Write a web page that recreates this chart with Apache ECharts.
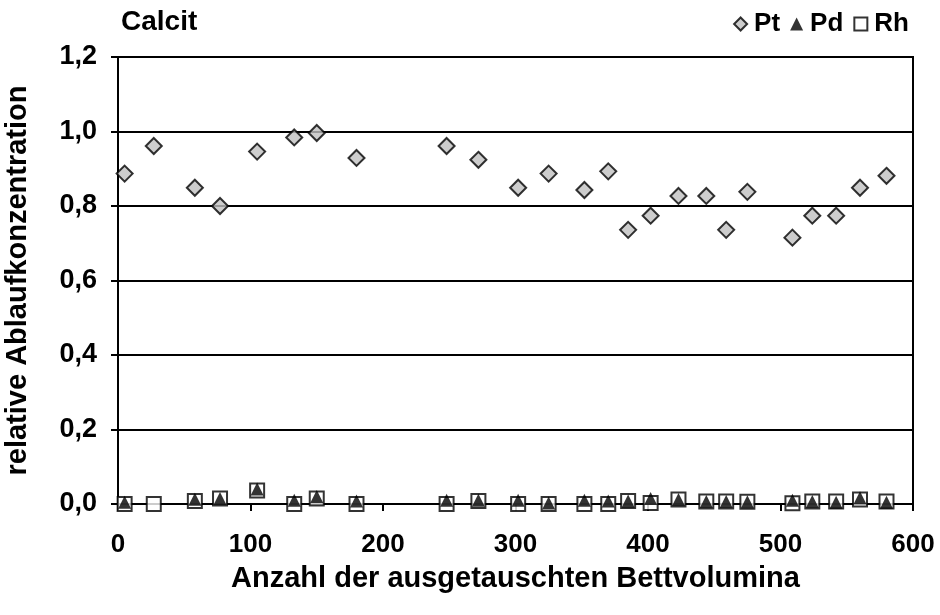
<!DOCTYPE html>
<html>
<head>
<meta charset="utf-8">
<script src="https://cdn.jsdelivr.net/npm/echarts@6/dist/echarts.min.js"></script>
<style>
  html, body { margin: 0; padding: 0; background: #fff; }
  #chart { width: 940px; height: 615px; }
</style>
</head>
<body>
<div id="chart"></div>
<script>
// Exchanged bed volumes at each sampling point
const bedVolumes = [5, 27, 58, 77, 105, 133, 150, 180, 248, 272, 302, 325, 352, 370, 385, 402, 423, 444, 459, 475, 509, 524, 542, 560, 580];

// Relative effluent concentration per metal
const ptValues = [0.887, 0.961, 0.849, 0.800, 0.946, 0.984, 0.996, 0.929, 0.961, 0.924, 0.849, 0.887, 0.843, 0.893, 0.736, 0.774, 0.827, 0.827, 0.736, 0.838, 0.715, 0.774, 0.774, 0.849, 0.881];
const pdValues = [0.005, null, 0.013, 0.015, 0.040, 0.010, 0.020, 0.008, 0.010, 0.010, 0.010, 0.003, 0.010, 0.008, 0.008, 0.015, 0.012, 0.007, 0.007, 0.006, 0.010, 0.007, 0.005, 0.017, 0.005];
const rhValues = [0.000, 0.000, 0.008, 0.015, 0.036, 0.000, 0.015, 0.000, 0.000, 0.008, 0.000, 0.000, 0.000, 0.000, 0.008, 0.003, 0.012, 0.007, 0.007, 0.006, 0.002, 0.007, 0.007, 0.012, 0.007];

const yTicks = [0, 0.2, 0.4, 0.6, 0.8, 1.0, 1.2];
const xTicks = [0, 100, 200, 300, 400, 500, 600];

function pairs(xs, ys) {
  const out = [];
  xs.forEach((x, i) => { if (ys[i] !== null) out.push([x, ys[i]]); });
  return out;
}

const font = 'Liberation Sans, Arial, sans-serif';
const chart = echarts.init(document.getElementById('chart'), null, { renderer: 'canvas' });

chart.setOption({
  animation: false,
  backgroundColor: '#ffffff',
  title: {
    text: 'Calcit',
    left: 116,
    top: 3,
    textStyle: { fontFamily: font, fontWeight: 'bold', fontSize: 28, color: '#000' }
  },
  legend: {
    right: 26,
    top: 6,
    itemGap: 10,
    itemWidth: 13,
    itemHeight: 13,
    data: [
      { name: 'Pt', icon: 'diamond' },
      { name: 'Pd', icon: 'triangle' },
      { name: 'Rh', icon: 'rect' }
    ],
    textStyle: { fontFamily: font, fontWeight: 'bold', fontSize: 26, color: '#000', padding: [0, 0, 0, 2] }
  },
  grid: {
    left: 118,
    right: 27,
    top: 57,
    bottom: 111,
    outerBoundsMode: 'none',
    containLabel: false,
    show: true,
    borderColor: '#000',
    borderWidth: 2,
    backgroundColor: 'transparent'
  },
  xAxis: {
    type: 'value',
    min: xTicks[0],
    max: xTicks[xTicks.length - 1],
    interval: 100,
    name: 'Anzahl der ausgetauschten Bettvolumina',
    nameLocation: 'middle',
    nameGap: 60,
    nameTextStyle: { fontFamily: font, fontWeight: 'bold', fontSize: 29, color: '#000' },
    axisLine: { show: true, lineStyle: { color: '#000', width: 2 } },
    axisTick: { show: true, inside: false, length: 7, lineStyle: { color: '#000', width: 2 } },
    axisLabel: { fontFamily: font, fontWeight: 'bold', fontSize: 26, color: '#000', margin: 28 },
    splitLine: { show: false }
  },
  yAxis: {
    type: 'value',
    min: yTicks[0],
    max: yTicks[yTicks.length - 1],
    interval: 0.2,
    name: 'relative Ablaufkonzentration',
    nameLocation: 'middle',
    nameGap: 86,
    nameTextStyle: { fontFamily: font, fontWeight: 'bold', fontSize: 29, color: '#000' },
    axisLine: { show: true, lineStyle: { color: '#000', width: 2 } },
    axisTick: { show: true, inside: false, length: 7, lineStyle: { color: '#000', width: 2 } },
    axisLabel: {
      fontFamily: font, fontWeight: 'bold', fontSize: 27, color: '#000', margin: 21,
      formatter: v => v.toFixed(1).replace('.', ',')
    },
    splitLine: { show: true, lineStyle: { color: '#000', width: 2 } }
  },
  series: [
    {
      name: 'Rh',
      type: 'scatter',
      symbol: 'rect',
      symbolSize: 14,
      z: 2,
      itemStyle: { color: '#ffffff', borderColor: '#000', borderWidth: 2 },
      data: pairs(bedVolumes, rhValues)
    },
    {
      name: 'Pd',
      type: 'scatter',
      symbol: 'triangle',
      symbolSize: 13,
      z: 3,
      itemStyle: { color: '#000000', borderColor: '#000', borderWidth: 0 },
      data: pairs(bedVolumes, pdValues)
    },
    {
      name: 'Pt',
      type: 'scatter',
      symbol: 'diamond',
      symbolSize: 16,
      z: 4,
      itemStyle: { color: '#c0c0c0', borderColor: '#000', borderWidth: 2 },
      data: pairs(bedVolumes, ptValues)
    }
  ]
});
</script>
</body>
</html>
